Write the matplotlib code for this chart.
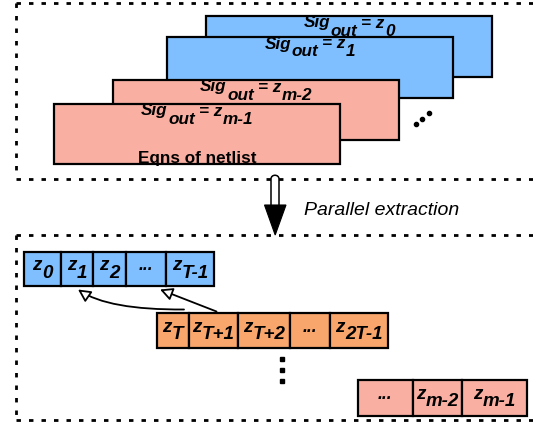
import matplotlib
matplotlib.use('Agg')
import matplotlib.pyplot as plt
from matplotlib.patches import Rectangle, Polygon, FancyArrowPatch, PathPatch
from matplotlib.path import Path

# ---------------- content ----------------
card_subs = ['0', '1', 'm-2', 'm-1']
card_footer = 'Eqns of netlist'
row1_base = ['z', 'z', 'z', '...', 'z']
row1_sub = ['0', '1', '2', '', 'T-1']
row2_base = ['z', 'z', 'z', '...', 'z']
row2_sub = ['T', 'T+1', 'T+2', '', '2T-1']
row3_base = ['...', 'z', 'z']
row3_sub = ['', 'm-2', 'm-1']
arrow_label = 'Parallel extraction'

# ---------------- style / layout ----------------
W, H = 533, 426
BLUE = '#80bfff'
ORANGE = '#f9a66c'
SALMON = '#f9b0a3'
FONT = 'Liberation Sans'

fig = plt.figure(figsize=(W / 100, H / 100), dpi=100)
ax = fig.add_axes([0, 0, 1, 1])
ax.set_xlim(0, W)
ax.set_ylim(H, 0)
ax.axis('off')
renderer = fig.canvas.get_renderer()

BI = dict(family=FONT, weight='bold', style='italic')


def twidth(s, size, **kw):
    t = ax.text(0, 0, s, fontsize=size, **kw)
    w = t.get_window_extent(renderer).width
    t.remove()
    return w


def rich(xc, yb, pieces, size, dy, zorder=5, **kw):
    """pieces: list of (text, is_sub, gap_before_px)"""
    ws = [twidth(s, size, **kw) for s, _, _ in pieces]
    total = sum(ws) + sum(g for _, _, g in pieces)
    x = xc - total / 2
    for (s, sub, g), w in zip(pieces, ws):
        x += g
        ax.text(x, yb + (dy if sub else 0), s, fontsize=size, ha='left',
                va='baseline', zorder=zorder, **kw)
        x += w


# ---------------- dotted frames ----------------
dot = dict(color='black', lw=2.0, linestyle=(0, (1.6, 2.9)), zorder=1)
ax.plot([16, W + 5], [3, 3], **dot)
ax.plot([16, 16], [3, 178], **dot)
ax.plot([16, W + 5], [178.5, 178.5], **dot)
ax.plot([16, W + 5], [235, 235], **dot)
ax.plot([16, 16], [235, 420], **dot)
ax.plot([16, W + 5], [420, 420], **dot)

# ---------------- stacked cards ----------------
card_boxes = [(206, 16, 492, 77), (167, 37, 453, 98),
              (113, 80, 399, 140), (54, 104, 340, 164)]
card_colors = [BLUE, BLUE, SALMON, SALMON]
for i, ((x0, y0, x1, y1), c, sub) in enumerate(zip(card_boxes, card_colors, card_subs)):
    z = 10 + 3 * i
    ax.add_patch(Rectangle((x0, y0), x1 - x0, y1 - y0, fc=c, ec='none', zorder=z))
    rich((x0 + x1) / 2, y0 + 11.5,
         [('Sig', False, 0), ('out', True, 0.5), ('= z', False, 4), (sub, True, 0.5)],
         12.3, 8, zorder=z + 1, **BI)
    if i == 3:
        ax.text((x0 + x1) / 2, y1 - 0.5, card_footer, fontsize=12.3, family=FONT,
                weight='bold', ha='center', va='baseline', zorder=z + 1)
    ax.add_patch(Rectangle((x0, y0), x1 - x0, y1 - y0, fc='none', ec='black',
                           lw=1.6, zorder=z + 2))

# diagonal ellipsis
for (x, y) in [(416, 124), (422, 119), (429, 113)]:
    ax.plot(x, y, 'o', color='black', ms=3, zorder=20)

# ---------------- big downward arrow ----------------
shaft = Path([(271, 206), (271, 179), (271, 174), (279, 174), (279, 179), (279, 206)],
             [Path.MOVETO, Path.LINETO, Path.CURVE4, Path.CURVE4, Path.CURVE4, Path.LINETO])
ax.add_patch(PathPatch(shaft, fc='white', ec='black', lw=1.1, zorder=30))
ax.add_patch(Polygon([(264.5, 205), (286, 205), (275.2, 235)], closed=True,
                     fc='black', ec='black', lw=0.8, zorder=31))
ax.text(304, 215, arrow_label, fontsize=14, family=FONT, style='italic',
        ha='left', va='baseline', zorder=30)


# ---------------- cell rows ----------------
def cell_row(edges, y0, y1, color, bases, subs, size=13.5):
    for i, (b, s) in enumerate(zip(bases, subs)):
        xa, xb = edges[i], edges[i + 1]
        ax.add_patch(Rectangle((xa, y0), xb - xa, y1 - y0, fc=color, ec='black',
                               lw=1.6, zorder=40))
        if s:
            rich((xa + xb) / 2, y0 + 19, [(b, False, 0), (s, True, 0.3)], size, 7.5,
                 zorder=41, **BI)
        else:
            ax.text((xa + xb) / 2, y0 + 19, b, fontsize=size - 1, ha='center',
                    va='baseline', zorder=41, **BI)


row1_edges = [24, 60.5, 93, 126, 166, 214]
row2_edges = [157, 189, 238, 290, 330, 387.5]
row3_edges = [358, 412.5, 462, 526.5]
cell_row(row1_edges, 251.5, 286, BLUE, row1_base, row1_sub)
cell_row(row2_edges, 312.7, 348, ORANGE, row2_base, row2_sub)
cell_row(row3_edges, 380, 416, SALMON, row3_base, row3_sub)

# vertical ellipsis
for y in [358.5, 369.5, 380.5]:
    ax.plot(281.5, y, 's', color='black', ms=3.2, zorder=20)

# ---------------- dependency arrows ----------------
astyle = '-|>,head_length=0.75,head_width=0.38'
curve = Path([(184, 309.5), (108, 310), (78, 289.5)],
             [Path.MOVETO, Path.CURVE3, Path.CURVE3])
ax.add_patch(FancyArrowPatch(path=curve, arrowstyle=astyle, mutation_scale=10,
                             fc='white', ec='black', lw=1.3, zorder=45))
ax.add_patch(FancyArrowPatch((216.5, 311.5), (160, 289.5), arrowstyle=astyle,
                             mutation_scale=10, shrinkA=0, shrinkB=0,
                             fc='white', ec='black', lw=1.3, zorder=45))

fig.savefig('out.png', dpi=100, facecolor='white')
